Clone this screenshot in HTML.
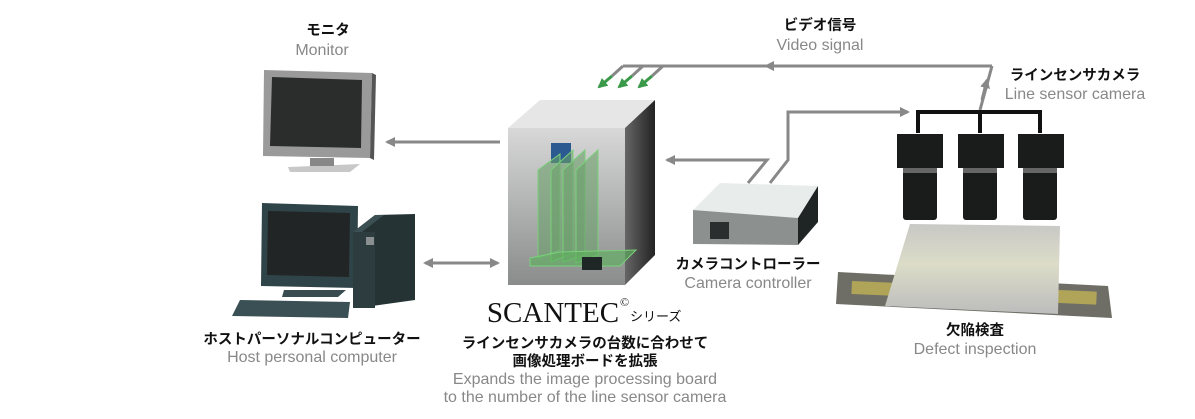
<!DOCTYPE html>
<html><head><meta charset="utf-8"><style>
html,body{margin:0;padding:0;background:#fff;width:1195px;height:419px;overflow:hidden}
svg{display:block}
.jp{font-family:"Liberation Sans","Noto Sans CJK JP",sans-serif;font-weight:bold;font-size:14.5px;fill:#111}
.en{font-family:"Liberation Sans","Noto Sans CJK JP",sans-serif;font-size:16px;fill:#888}
</style></head><body>
<svg width="1195" height="419" viewBox="0 0 1195 419" xmlns="http://www.w3.org/2000/svg">
<defs>
<linearGradient id="front" x1="0" y1="0" x2="0" y2="1"><stop offset="0" stop-color="#d8d8d8"/><stop offset="1" stop-color="#8a8c8c"/></linearGradient>
<linearGradient id="side" x1="0" y1="0" x2="1" y2="0"><stop offset="0" stop-color="#666"/><stop offset="1" stop-color="#222"/></linearGradient>
<linearGradient id="sheet" x1="0" y1="0" x2="0" y2="1"><stop offset="0" stop-color="#c8c8c6"/><stop offset="0.45" stop-color="#dcdcc8"/><stop offset="1" stop-color="#bcbcbc"/></linearGradient>
<marker id="ah" markerWidth="10" markerHeight="10" refX="8" refY="5" orient="auto" markerUnits="userSpaceOnUse"><path d="M0,0 L10,5 L0,10 z" fill="#888"/></marker>
<marker id="gh" markerWidth="10" markerHeight="10" refX="8" refY="5" orient="auto" markerUnits="userSpaceOnUse"><path d="M0,0 L10,5 L0,10 z" fill="#3a9a4a"/></marker>
</defs>
<g stroke="#888" stroke-width="3" fill="none">
<polyline points="992,66 623,66"/>
<line x1="800" y1="66" x2="766" y2="66" marker-end="url(#ah)"/>
<polyline points="980,110 992,66"/>
<line x1="982" y1="100" x2="987" y2="80" marker-end="url(#ah)"/>
<line x1="623" y1="66" x2="612" y2="76"/><line x1="643" y1="66" x2="632" y2="76"/><line x1="663" y1="66" x2="652" y2="76"/>
<polyline points="770,183 788,160 788,112 908,112" marker-end="url(#ah)"/>
<polyline points="748,183 767,160 667,160" marker-end="url(#ah)"/>
<line x1="500" y1="142" x2="387" y2="142" marker-end="url(#ah)"/>
<line x1="430" y1="263" x2="498" y2="263" marker-end="url(#ah)"/>
<line x1="470" y1="263" x2="425" y2="263" marker-end="url(#ah)"/>
</g>
<g stroke="#3a9a4a" stroke-width="3">
<line x1="612" y1="76" x2="599" y2="87" marker-end="url(#gh)"/>
<line x1="632" y1="76" x2="619" y2="87" marker-end="url(#gh)"/>
<line x1="652" y1="76" x2="639" y2="87" marker-end="url(#gh)"/>
</g>
<!-- monitor -->
<polygon points="264,70 372,73 370,158 263,156" fill="#9a9a9a"/>
<polygon points="372,73 376,75 374,160 370,158" fill="#555"/>
<polygon points="272,77 362,80 361,148 270,146" fill="#2b2d2d"/>
<polygon points="288,167 360,164 350,172 290,172" fill="#c8c8c8"/>
<rect x="310" y="158" width="24" height="8" fill="#888"/>
<!-- PC -->
<polygon points="262,203 358,206 357,288 261,286" fill="#2f4448"/>
<polygon points="268,211 350,213 349,277 267,275" fill="#222525"/>
<polygon points="284,290 346,290 338,297 282,297" fill="#3a4c50"/>
<polygon points="353,232 375,215 415,214 415,300 358,308" fill="#253335"/>
<polygon points="353,232 375,215 384,215 362,232" fill="#3c5054"/>
<rect x="353" y="232" width="22" height="76" fill="#2c3c3f"/>
<rect x="366" y="237" width="8" height="8" fill="#8a9090"/>
<polygon points="240,300 350,302 348,318 232,316" fill="#3b5054"/>
<!-- server box -->
<polygon points="508,128 540,100 655,100 625,128" fill="#e6e6e6"/>
<polygon points="625,128 655,100 655,255 625,285" fill="url(#side)"/>
<rect x="508" y="128" width="117" height="157" fill="url(#front)"/>
<rect x="551" y="143" width="20" height="20" fill="#2a5a90"/>
<g fill="#6aa06a" fill-opacity="0.6" stroke="#7ad07a" stroke-width="1">
<polygon points="538,170 560,154 560,250 538,258"/>
<polygon points="551,170 573,150 573,253 551,262"/>
<polygon points="563,170 585,150 585,255 563,262"/>
<polygon points="576,170 598,150 598,255 576,263"/>
<polygon points="530,258 560,252 636,250 620,266 530,266" fill="#5ab05a"/>
</g>
<rect x="582" y="257" width="20" height="13" fill="#1e2626"/>
<!-- controller -->
<polygon points="693,210 720,183 818,186 798,218" fill="#e8ecea"/>
<polygon points="693,210 798,218 798,245 693,244" fill="#8c908e"/>
<polygon points="798,218 818,186 818,222 798,245" fill="#1f2424"/>
<rect x="710" y="222" width="19" height="17" fill="#2a2e2e"/>
<!-- cameras -->
<g stroke="#111" stroke-width="4" fill="none">
<polyline points="918,133 918,112 1040,112 1040,133"/><line x1="980" y1="112" x2="980" y2="133"/>
</g>
<g fill="#1a1c1c">
<rect x="897" y="134" width="46" height="34"/><rect x="958" y="134" width="46" height="34"/><rect x="1018" y="134" width="46" height="34"/>
<rect x="903" y="168" width="34" height="52" rx="3"/><rect x="963" y="168" width="34" height="52" rx="3"/><rect x="1023" y="168" width="34" height="52" rx="3"/>
</g>
<g fill="#666"><rect x="903" y="168" width="34" height="5"/><rect x="963" y="168" width="34" height="5"/><rect x="1023" y="168" width="34" height="5"/></g>
<!-- roller & sheet -->
<polygon points="838,272 1108,286 1112,318 836,304" fill="#6e6e66"/>
<rect x="852" y="281" width="245" height="13" fill="#b0a458" transform="rotate(2.5 852 281)"/>
<polygon points="910,224 1060,226 1058,314 885,306" fill="url(#sheet)"/>
<!-- texts -->
<text class="jp" x="328" y="35" text-anchor="middle">モニタ</text>
<text class="en" x="322" y="55" text-anchor="middle">Monitor</text>
<text class="jp" x="820" y="30" text-anchor="middle">ビデオ信号</text>
<text class="en" x="820" y="50" text-anchor="middle">Video signal</text>
<text class="jp" x="1075" y="80" text-anchor="middle">ラインセンサカメラ</text>
<text class="en" x="1075" y="99" text-anchor="middle">Line sensor camera</text>
<text class="jp" x="748" y="269" text-anchor="middle">カメラコントローラー</text>
<text class="en" x="748" y="288" text-anchor="middle">Camera controller</text>
<text class="jp" x="312" y="344" text-anchor="middle">ホストパーソナルコンピューター</text>
<text class="en" x="312" y="362" text-anchor="middle">Host personal computer</text>
<text x="553" y="322" text-anchor="middle" font-family="Liberation Serif,serif" font-size="29" fill="#111">SCANTEC</text>
<text x="620" y="306" font-family="Liberation Serif,serif" font-size="12" fill="#111">©</text>
<text x="630" y="321" font-family="Liberation Sans,Noto Sans CJK JP,sans-serif" font-size="13" fill="#111">シリーズ</text>
<text class="jp" x="585" y="348" text-anchor="middle">ラインセンサカメラの台数に合わせて</text>
<text class="jp" x="585" y="366" text-anchor="middle">画像処理ボードを拡張</text>
<text class="en" x="585" y="384" text-anchor="middle">Expands the image processing board</text>
<text class="en" x="585" y="402" text-anchor="middle">to the number of the line sensor camera</text>
<text class="jp" x="975" y="335" text-anchor="middle">欠陥検査</text>
<text class="en" x="975" y="354" text-anchor="middle">Defect inspection</text>
</svg>
</body></html>
